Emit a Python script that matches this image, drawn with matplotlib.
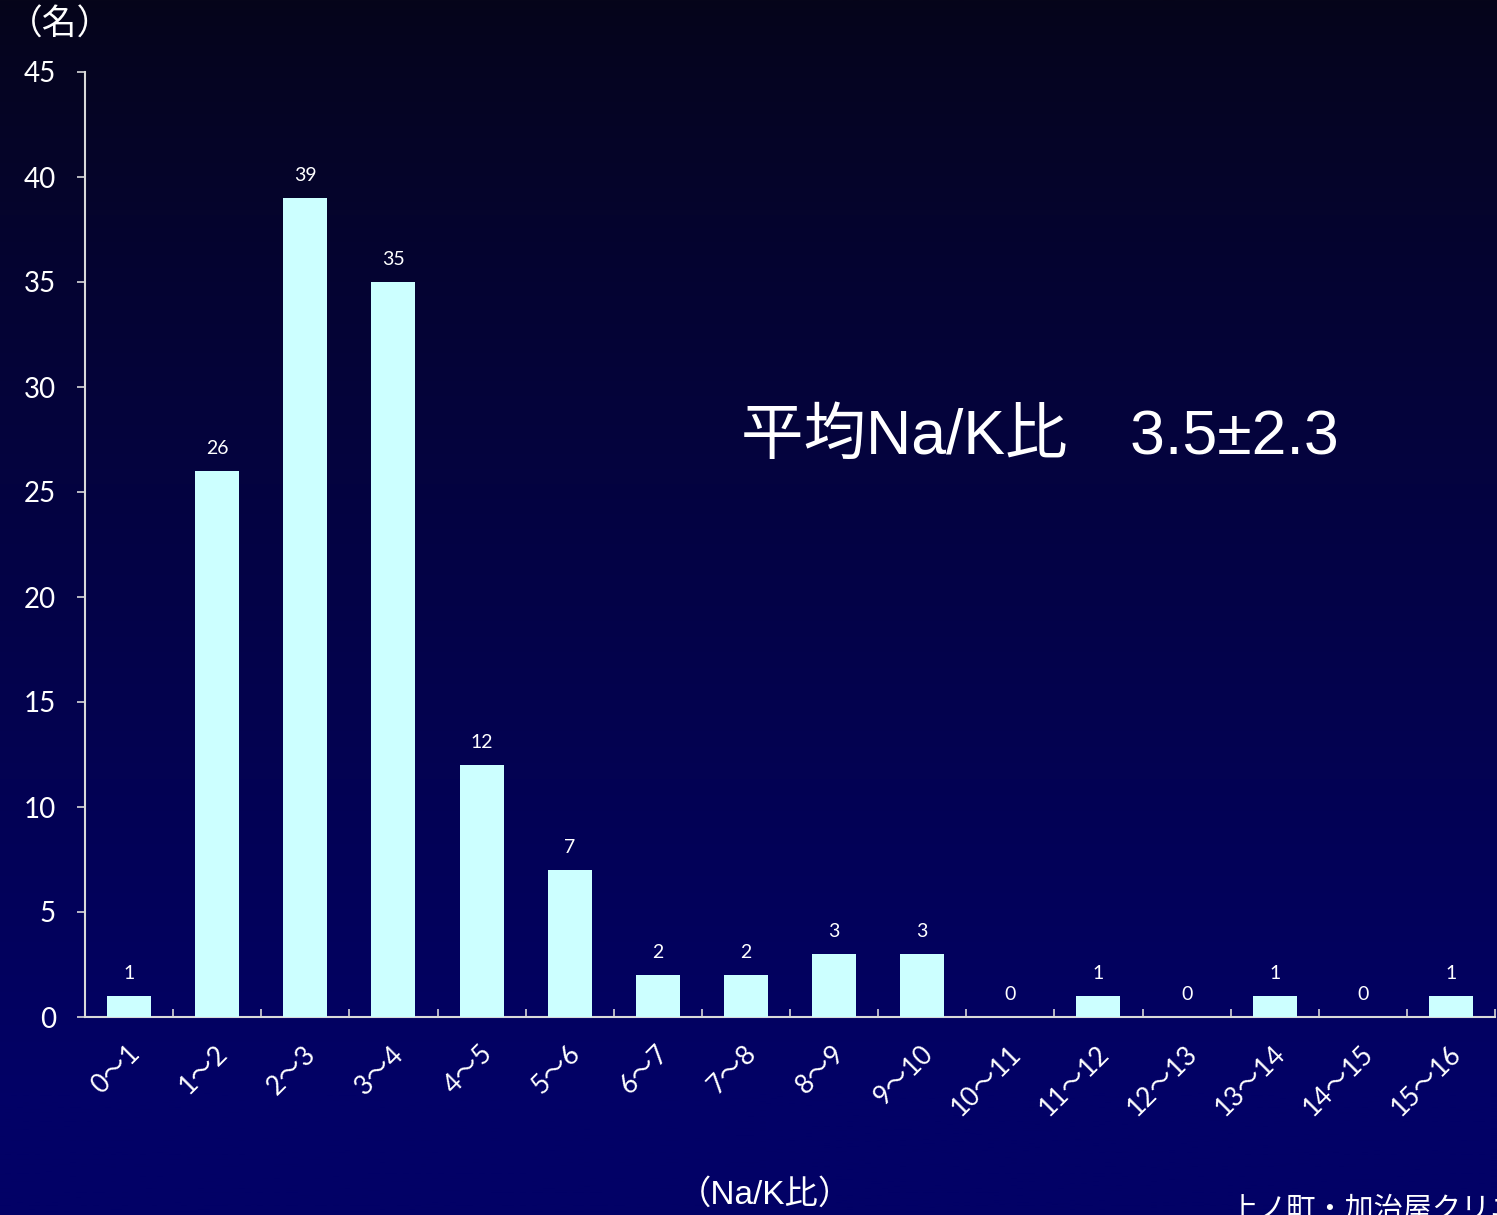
import numpy as np
import matplotlib
matplotlib.use("Agg")
import matplotlib.pyplot as plt
from matplotlib.transforms import ScaledTranslation

# Distribution of Na/K ratio
categories = ["0〜1", "1〜2", "2〜3", "3〜4", "4〜5", "5〜6", "6〜7", "7〜8",
              "8〜9", "9〜10", "10〜11", "11〜12", "12〜13", "13〜14", "14〜15", "15〜16"]
counts = [1, 26, 39, 35, 12, 7, 2, 2, 3, 3, 0, 1, 0, 1, 0, 1]
yticks = [0, 5, 10, 15, 20, 25, 30, 35, 40, 45]

JP = ["Noto Sans CJK JP", "DejaVu Sans"]
NUM = ["Lato", "Noto Sans CJK JP", "DejaVu Sans"]
SANS = ["Liberation Sans", "Noto Sans CJK JP", "DejaVu Sans"]
WHITE = "#ffffff"
AXIS = "#d9d9d9"
BAR = "#ccffff"

W, H, DPI = 1497, 1215, 100
fig = plt.figure(figsize=(W / DPI, H / DPI), dpi=DPI)

# Background: vertical gradient, dark at top, navy at bottom
bg = fig.add_axes([0, 0, 1, 1], zorder=-10)
t = np.linspace(0, 1, 512)
t = np.clip(t / 0.9, 0, 1) ** 0.85
top = np.array([6, 5, 26]) / 255
bot = np.array([2, 1, 102]) / 255
grad = top[None, :] * (1 - t[:, None]) + bot[None, :] * t[:, None]
bg.imshow(grad[:, None, :], aspect="auto", extent=[0, 1, 0, 1], origin="upper")
bg.set_axis_off()

left, right = 85 / W, 1495 / W
bottom, topp = (H - 1017) / H, (H - 72) / H
ax = fig.add_axes([left, bottom, right - left, topp - bottom])
ax.set_facecolor("none")

x = np.arange(len(categories))
ax.bar(x, counts, width=0.5, color=BAR, zorder=3)
ax.set_xlim(-0.5, len(categories) - 0.5)
ax.set_ylim(0, 45)

for s in ["top", "right"]:
    ax.spines[s].set_visible(False)
for s in ["left", "bottom"]:
    ax.spines[s].set_color(AXIS)
    ax.spines[s].set_linewidth(1.5)

ax.set_yticks(yticks)
ax.set_yticklabels([str(v) for v in yticks], family=NUM, fontsize=20, color=WHITE)
ax.tick_params(axis="y", direction="out", length=6, width=1.2, color=AXIS, pad=15)

# x ticks at class boundaries, pointing inward
ax.set_xticks(np.arange(-0.5, len(categories), 1.0))
ax.set_xticklabels([])
ax.tick_params(axis="x", direction="in", length=6, width=1.2, color=AXIS)

# Rotated category labels
off = ScaledTranslation(-2 / DPI, -24 / DPI, fig.dpi_scale_trans)
for xi, lab in zip(x, categories):
    ax.text(xi, 0, lab, transform=ax.get_xaxis_transform() + off,
            rotation=45, ha="right", va="top", rotation_mode="anchor",
            fontsize=19, color=WHITE, family=NUM)

# Value labels
for xi, v in zip(x, counts):
    ax.annotate(str(v), (xi, v), xytext=(0, 10), textcoords="offset points",
                ha="center", va="bottom", fontsize=14, color=WHITE, family=NUM)

fig.text(8 / W, 1 - 25 / H, "（名）", fontsize=25, color=WHITE, family=JP,
         ha="left", va="center")
fig.text(765 / W, 1 - 1195 / H, "（Na/K比）", fontsize=24, color=WHITE, family=SANS,
         ha="center", va="center")
fig.text(1040 / W, 1 - 437 / H, "平均Na/K比　3.5±2.3", fontsize=45, color=WHITE,
         family=SANS, ha="center", va="center")
fig.text(1228 / W, 1 - 1194 / H, "上ノ町・加治屋クリニック", fontsize=21, color=WHITE,
         family=JP, style="italic", ha="left", va="top")

fig.savefig("out.png", dpi=DPI)
